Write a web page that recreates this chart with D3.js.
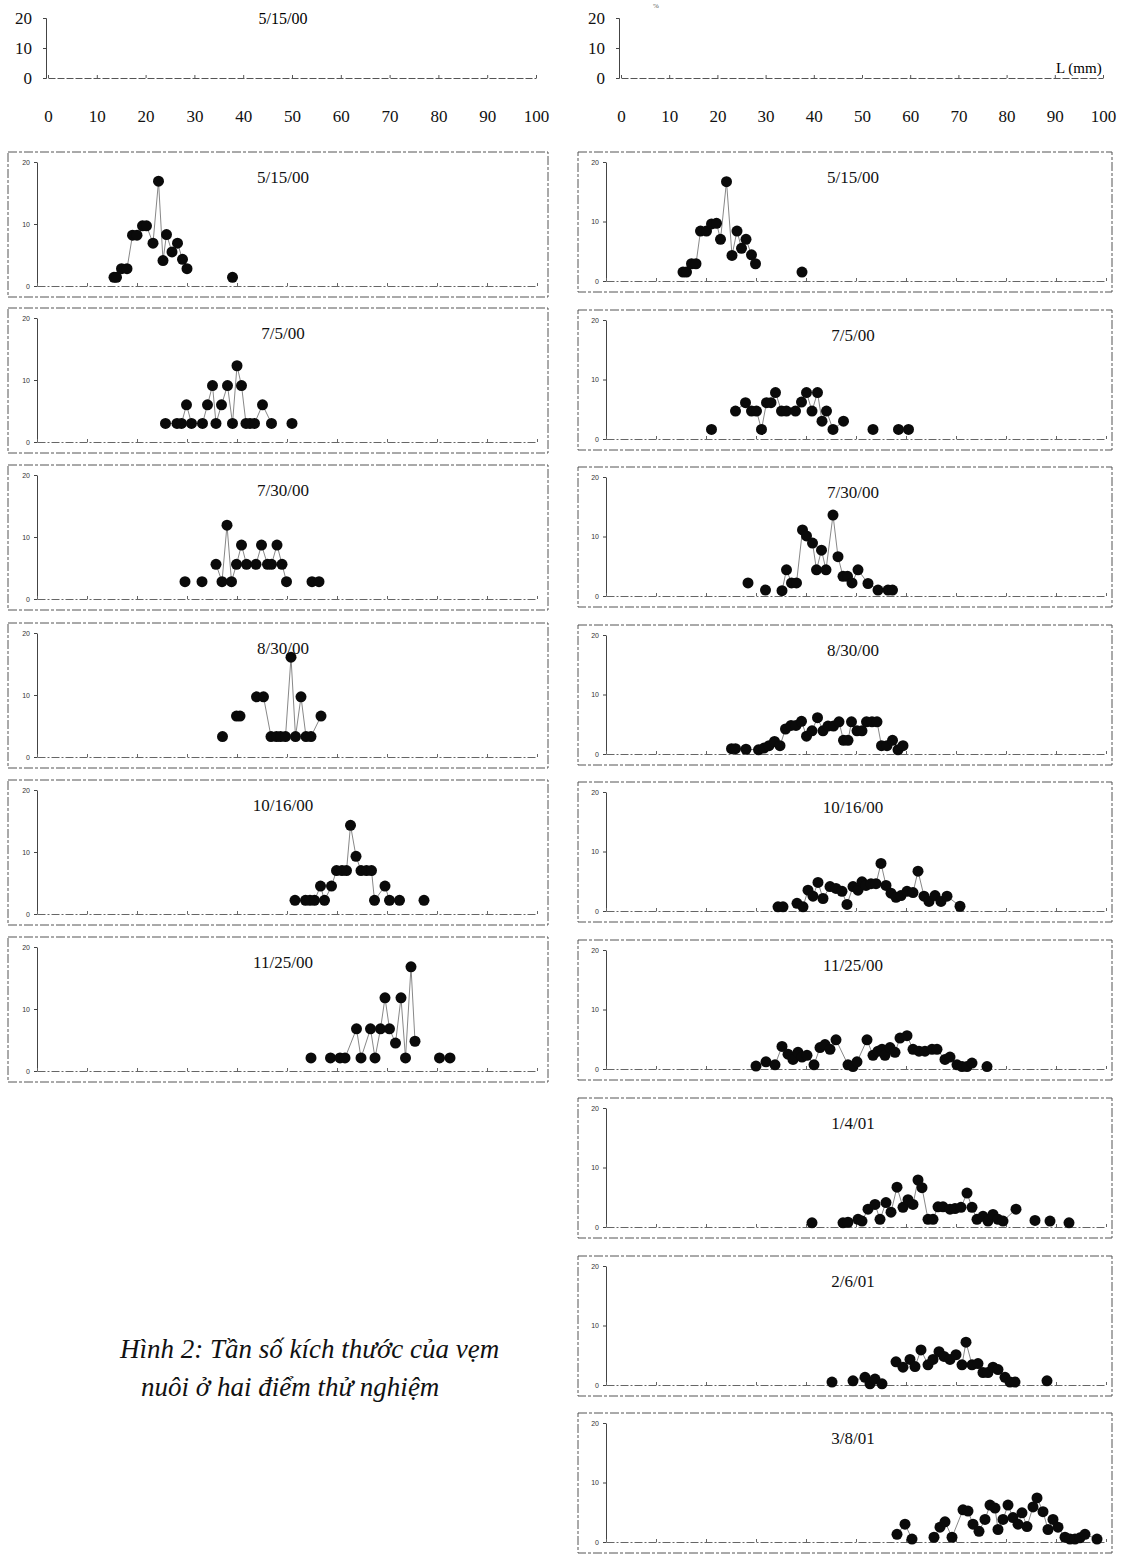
<!DOCTYPE html>
<html>
<head>
<meta charset="utf-8">
<script src="https://cdn.jsdelivr.net/npm/d3@7"></script>
<style>
  body { margin: 0; background: #fff; }
  svg { display: block; }
</style>
</head>
<body>
<div id="chart"></div>
<script>
// axis ticks
const xTicks = [0, 10, 20, 30, 40, 50, 60, 70, 80, 90, 100];
const yTicks = [0, 10, 20];

// sampling dates (left site / right site)
const datesLeft = ['5/15/00', '7/5/00', '7/30/00', '8/30/00', '10/16/00', '11/25/00'];
const datesRight = ['5/15/00', '7/5/00', '7/30/00', '8/30/00', '10/16/00', '11/25/00', '1/4/01', '2/6/01', '3/8/01'];

// [length mm, percent] -- left site
const left0515 = [[15.4,1.4],[15.9,1.4],[16.9,2.8],[18.0,2.8],[19.1,8.2],[20.0,8.2],[21.1,9.7],[21.9,9.7],[23.2,6.9],[24.3,16.9],[25.2,4.1],[25.9,8.3],[27.0,5.5],[28.1,6.9],[29.1,4.3],[30.0,2.8],[39.1,1.4]];
const left0705 = [[25.7,3.0],[28.0,3.0],[28.9,3.0],[29.9,6.0],[30.9,3.0],[33.1,3.0],[34.1,6.0],[35.1,9.1],[35.8,3.0],[36.9,6.0],[38.1,9.1],[39.1,3.0],[40.0,12.3],[40.9,9.1],[41.8,3.0],[42.6,3.0],[43.5,3.0],[45.1,6.0],[46.9,3.0],[51.0,3.0]];
const left0730 = [[29.6,2.8],[33.0,2.8],[35.8,5.6],[37.0,2.8],[38.0,11.9],[38.9,2.8],[39.9,5.6],[40.9,8.7],[41.9,5.6],[43.8,5.6],[44.9,8.7],[46.1,5.6],[46.9,5.6],[48.0,8.7],[49.0,5.6],[49.9,2.8],[55.0,2.8],[56.4,2.8]];
const left0830 = [[37.1,3.3],[39.9,6.6],[40.6,6.6],[43.9,9.7],[45.3,9.7],[46.8,3.3],[47.9,3.3],[48.7,3.3],[49.7,3.3],[50.8,16.1],[51.7,3.3],[52.8,9.7],[53.8,3.3],[54.8,3.3],[56.8,6.6]];
const left1016 = [[51.6,2.2],[53.7,2.2],[54.6,2.2],[55.5,2.2],[56.7,4.5],[57.5,2.2],[58.9,4.5],[59.9,7.0],[61.0,7.0],[61.9,7.0],[62.7,14.3],[63.8,9.3],[64.8,7.0],[65.9,7.0],[66.9,7.0],[67.5,2.2],[69.6,4.5],[70.5,2.2],[72.5,2.2],[77.4,2.2]];
const left1125 = [[54.8,2.1],[58.7,2.1],[60.6,2.1],[61.6,2.1],[63.9,6.8],[64.8,2.1],[66.7,6.8],[67.6,2.1],[68.7,6.8],[69.6,11.8],[70.5,6.8],[71.7,4.5],[72.8,11.8],[73.7,2.1],[74.8,16.8],[75.6,4.8],[80.5,2.1],[82.6,2.1]];

// right site
const right0515 = [[15.4,1.5],[16.1,1.5],[17.1,2.9],[18.0,2.9],[18.9,8.4],[20.1,8.4],[21.1,9.6],[22.1,9.7],[22.9,7.0],[24.1,16.7],[25.2,4.3],[26.2,8.4],[27.1,5.5],[28.0,7.0],[29.1,4.4],[29.9,2.9],[39.2,1.5]];
const right0705 = [[21.1,1.6],[25.9,4.7],[27.9,6.1],[29.1,4.7],[30.1,4.7],[31.1,1.6],[32.1,6.1],[33.0,6.1],[33.9,7.8],[35.1,4.7],[36.1,4.7],[37.9,4.7],[39.1,6.2],[40.1,7.8],[41.2,4.7],[42.3,7.8],[43.2,3.0],[44.1,4.7],[45.4,1.6],[47.5,3.0],[53.4,1.6],[58.5,1.6],[60.5,1.6]];
const right0730 = [[28.4,2.2],[31.9,1.0],[35.2,0.9],[36.1,4.4],[37.1,2.2],[38.1,2.2],[39.3,11.1],[40.1,10.1],[41.3,8.9],[42.1,4.4],[43.1,7.7],[44.0,4.4],[45.4,13.6],[46.4,6.6],[47.4,3.3],[48.3,3.3],[49.2,2.2],[50.4,4.4],[52.4,2.1],[54.4,1.0],[56.4,1.0],[57.3,1.0]];
const right0830 = [[25.1,0.9],[25.9,0.9],[28.0,0.8],[30.5,0.7],[31.6,1.0],[32.6,1.4],[33.7,2.1],[34.8,1.4],[35.9,4.2],[37.0,4.8],[38.0,4.8],[39.1,5.5],[40.1,3.0],[41.2,3.9],[42.3,6.1],[43.4,3.9],[44.4,4.7],[45.5,4.7],[46.6,5.4],[47.5,2.3],[48.4,2.3],[49.1,5.4],[50.2,3.9],[51.2,3.9],[52.1,5.4],[53.2,5.4],[54.2,5.4],[55.1,1.4],[56.2,1.4],[57.3,2.3],[58.4,0.7],[59.4,1.4]];
const right1016 = [[34.4,0.7],[35.4,0.7],[38.2,1.3],[39.4,0.7],[40.4,3.5],[41.4,2.5],[42.4,4.8],[43.4,2.1],[44.8,4.1],[46.0,3.8],[47.2,3.3],[48.2,1.1],[49.4,4.1],[50.4,3.5],[51.2,4.9],[52.0,4.3],[53.0,4.6],[54.0,4.6],[55.0,8.0],[56.0,4.3],[57.0,3.0],[58.0,2.3],[59.0,2.6],[60.2,3.3],[61.4,3.1],[62.4,6.7],[63.6,2.5],[64.6,1.6],[65.8,2.6],[67.0,1.6],[68.2,2.5],[70.8,0.8]];
const right1125 = [[30.0,0.5],[32.0,1.2],[33.8,0.7],[35.2,3.8],[36.4,2.5],[37.4,1.6],[38.4,2.8],[39.2,2.0],[40.2,2.3],[41.6,0.7],[42.8,3.6],[43.8,4.1],[44.8,3.3],[46.0,4.9],[48.4,0.7],[49.4,0.4],[50.2,1.2],[52.2,4.9],[53.4,2.3],[54.4,3.0],[55.2,3.3],[55.8,2.3],[56.8,3.6],[57.8,2.8],[58.8,5.2],[60.2,5.6],[61.4,3.3],[62.6,3.0],[63.8,3.0],[65.2,3.3],[66.2,3.3],[67.8,1.6],[68.8,2.0],[70.2,0.7],[71.2,0.4],[72.2,0.4],[73.2,1.0],[76.2,0.4]];
const right0104 = [[41.2,0.7],[47.4,0.7],[48.4,0.8],[50.4,1.3],[51.2,1.0],[52.4,3.0],[53.8,3.8],[54.8,1.3],[56.0,4.1],[57.0,2.5],[58.2,6.7],[59.4,3.3],[60.4,4.6],[61.4,3.8],[62.4,7.9],[63.2,6.6],[64.4,1.3],[65.4,1.3],[66.4,3.4],[67.4,3.4],[68.8,3.0],[69.8,3.1],[71.0,3.3],[72.2,5.7],[73.2,3.3],[74.2,1.3],[75.4,1.8],[76.4,1.0],[77.4,2.1],[78.4,1.3],[79.4,1.0],[82.0,3.0],[85.8,1.1],[88.8,1.0],[92.6,0.7]];
const right0206 = [[45.2,0.5],[49.4,0.7],[51.8,1.3],[52.8,0.2],[53.8,1.0],[55.2,0.2],[58.0,3.9],[59.4,3.0],[60.8,4.3],[61.8,3.1],[63.0,5.9],[64.4,3.4],[65.4,4.3],[66.6,5.6],[67.6,4.8],[68.8,4.3],[70.0,5.1],[71.2,3.4],[72.0,7.2],[73.2,3.4],[74.4,3.6],[75.4,2.1],[76.4,2.1],[77.4,3.0],[78.4,2.6],[79.8,1.3],[80.8,0.5],[81.8,0.5],[88.2,0.7]];
const right0308 = [[58.2,1.3],[59.8,3.0],[61.2,0.5],[65.6,0.8],[66.8,2.5],[67.8,3.4],[69.2,0.8],[71.4,5.4],[72.4,5.2],[73.4,3.0],[74.6,1.8],[75.8,3.8],[76.8,6.2],[77.8,5.7],[78.4,2.1],[79.4,3.8],[80.4,6.2],[81.4,4.1],[82.4,3.0],[83.2,4.9],[84.2,2.6],[85.4,5.9],[86.2,7.4],[87.4,5.1],[88.4,2.1],[89.4,3.8],[90.4,2.5],[91.8,0.8],[92.8,0.5],[93.8,0.5],[94.8,0.7],[95.8,1.3],[98.2,0.5]];

const seriesLeft = [left0515, left0705, left0730, left0830, left1016, left1125];
const seriesRight = [right0515, right0705, right0730, right0830, right1016, right1125, right0104, right0206, right0308];

const W = 1126, H = 1555;
const serif = '"Liberation Serif", "DejaVu Serif", serif';
const sans = '"Liberation Sans", "DejaVu Sans", sans-serif';

const svg = d3.select('#chart').append('svg')
    .attr('width', W).attr('height', H)
    .style('background', '#fff');

// split a series where the length gap is large (no line drawn there)
function segments(pts) {
    const segs = [];
    let cur = [];
    pts.forEach(function(p, i) {
        if (i > 0 && p[0] - pts[i - 1][0] > 2.6) {
            segs.push(cur);
            cur = [];
        }
        cur.push(p);
    });
    segs.push(cur);
    return segs;
}

function header(x0, x1, title, withUnits) {
    const g = svg.append('g');
    const x = d3.scaleLinear().domain([0, 100]).range([x0, x1]);
    const y = d3.scaleLinear().domain([0, 20]).range([78, 18]);

    const ya = g.append('g').attr('transform', 'translate(' + (x0 - 2) + ',0)')
        .call(d3.axisLeft(y).tickValues(yTicks).tickSize(3).tickPadding(11));
    ya.selectAll('text').style('font-family', serif).style('font-size', '17px').attr('fill', '#111');
    ya.selectAll('line, path').attr('stroke', '#444');

    const xa = g.append('g').attr('transform', 'translate(0,78)')
        .call(d3.axisBottom(x).tickValues(xTicks).tickSize(-3).tickPadding(32).tickSizeOuter(0));
    xa.selectAll('text').style('font-family', serif).style('font-size', '17px').attr('fill', '#111');
    xa.selectAll('line').attr('stroke', '#555');
    xa.select('path').attr('stroke', '#555').attr('stroke-dasharray', '7,2');

    if (title) {
        g.append('text').attr('x', 283).attr('y', 24).attr('text-anchor', 'middle')
            .style('font-family', serif).style('font-size', '16px').text(title);
    }
    if (withUnits) {
        g.append('text').attr('x', 1056).attr('y', 73)
            .style('font-family', serif).style('font-size', '15px').text('L (mm)');
        g.append('text').attr('x', 653).attr('y', 8)
            .style('font-family', serif).style('font-size', '7px').attr('fill', '#555').text('%');
    }
}

function panel(left, top, width, height, axisX, title, data) {
    const g = svg.append('g');
    const x = d3.scaleLinear().domain([0, 100]).range([axisX, axisX + 500]);
    const y = d3.scaleLinear().domain([0, 20]).range([top + height - 11, top + 10]);

    g.append('rect')
        .attr('x', left).attr('y', top).attr('width', width).attr('height', height)
        .attr('fill', 'none').attr('stroke', '#555').attr('stroke-width', 1)
        .attr('stroke-dasharray', '9,2,3,2');

    const ya = g.append('g').attr('transform', 'translate(' + axisX + ',0)')
        .call(d3.axisLeft(y).tickValues(yTicks).tickSize(3).tickPadding(4).tickSizeOuter(0));
    ya.selectAll('text').style('font-family', sans).style('font-size', '7px').attr('fill', '#333');
    ya.selectAll('line, path').attr('stroke', '#444');

    const xa = g.append('g').attr('transform', 'translate(0,' + y(0) + ')')
        .call(d3.axisBottom(x).tickValues(xTicks).tickSize(-3).tickFormat('').tickSizeOuter(0));
    xa.selectAll('line').attr('stroke', '#666');
    xa.select('path').attr('stroke', '#666').attr('stroke-dasharray', '8,2,2,2');

    g.append('text').attr('x', left + 275).attr('y', top + 31).attr('text-anchor', 'middle')
        .style('font-family', serif).style('font-size', '17px').attr('fill', '#111').text(title);

    const line = d3.line().x(d => x(d[0])).y(d => y(d[1]));
    g.selectAll('path.seg').data(segments(data)).enter().append('path')
        .attr('class', 'seg')
        .attr('d', line)
        .attr('fill', 'none').attr('stroke', '#888').attr('stroke-width', 1);

    g.selectAll('circle').data(data).enter().append('circle')
        .attr('cx', d => x(d[0])).attr('cy', d => y(d[1]))
        .attr('r', 5.5).attr('fill', '#0a0a0a');
}

header(48, 536, '5/15/00', false);
header(621, 1103, null, true);

const topsLeft = [152, 308, 465, 623, 780, 937];
const topsRight = [152, 310, 467, 625, 782, 940, 1098, 1256, 1413];

datesLeft.forEach(function(d, i) {
    panel(8, topsLeft[i], 540, 145, 37, d, seriesLeft[i]);
});
datesRight.forEach(function(d, i) {
    panel(578, topsRight[i], 534, 140, 606, d, seriesRight[i]);
});

// caption
const cap = svg.append('g')
    .style('font-family', serif).style('font-style', 'italic').style('font-size', '27px').attr('fill', '#111');
cap.append('text').attr('x', 120).attr('y', 1358).text('Hình 2: Tần số kích thước của vẹm');
cap.append('text').attr('x', 141).attr('y', 1396).text('nuôi ở hai điểm thử nghiệm');
</script>
</body>
</html>
